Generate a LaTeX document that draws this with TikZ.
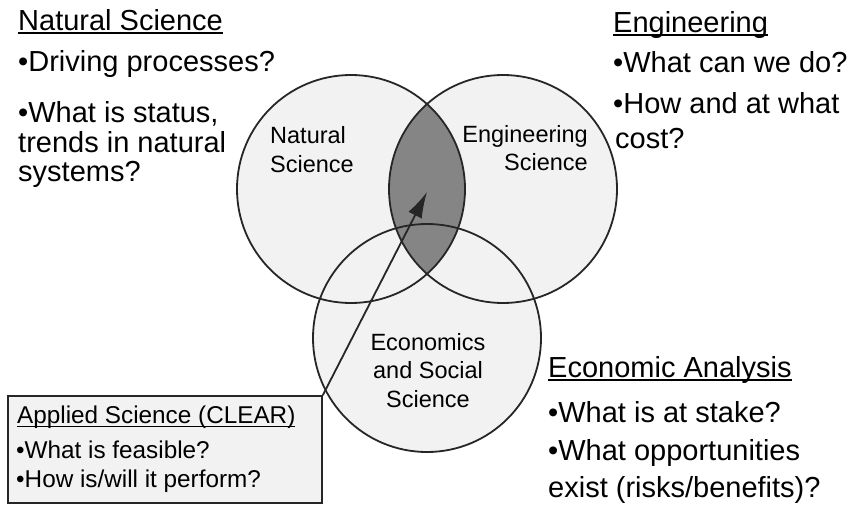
\documentclass[tikz,border=0pt]{standalone}
\usepackage{fontspec}
\setmainfont{Liberation Sans}
\usetikzlibrary{arrows.meta}

\newcommand\headtext[2][1.8pt]{\setbox0\hbox{#2}\rlap{\rule[-4pt]{\wd0}{#1}}\box0}

\tikzset{
  bigtext/.style={anchor=base west,inner sep=0pt,font=\fontsize{29}{34}\selectfont},
  boxtext/.style={anchor=base west,inner sep=0pt,font=\fontsize{24.3}{29}\selectfont},
  circtext/.style={inner sep=0pt,font=\fontsize{23.5}{28.5}\selectfont},
  field/.style={circle,draw=black!85,line width=1.8pt,minimum size=228pt},
}

\begin{document}
\begin{tikzpicture}[x=1pt,y=-1pt]
\useasboundingbox (0,0) rectangle (853,506);
\fill[white] (0,0) rectangle (853,506);
\fill[black!5] (351,189) circle[radius=114pt];
\fill[black!5] (503,189) circle[radius=114pt];
\fill[black!5] (427,338) circle[radius=114pt];
\begin{scope}
\clip (351,189) circle[radius=114pt];
\fill[black!48] (503,189) circle[radius=114pt];
\end{scope}
\node[field] (natc) at (351,189) {};
\node[field] (engc) at (503,189) {};
\node[field] (ecoc) at (427,338) {};
\node[circtext,anchor=base west] (natl1) at (270,143) {Natural};
\node[circtext,anchor=base west] (natl2) at (270,172) {Science};
\node[circtext,anchor=base east] (engl1) at (588,142) {Engineering};
\node[circtext,anchor=base east] (engl2) at (588,170) {Science};
\node[circtext,anchor=base] (ecol1) at (428,350) {Economics};
\node[circtext,anchor=base] (ecol2) at (428,378) {and Social};
\node[circtext,anchor=base] (ecol3) at (428,407) {Science};
\node[bigtext] (nat0) at (18,30) {\headtext{Natural Science}};
\node[bigtext] (nat1) at (18,71) {•Driving processes?};
\node[bigtext] (nat2) at (18,122) {•What is status,};
\node[bigtext] (nat3) at (18,152) {trends in natural};
\node[bigtext] (nat4) at (18,181) {systems?};
\node[bigtext] (eng0) at (613,32) {\headtext{Engineering}};
\node[bigtext] (eng1) at (613,72) {•What can we do?};
\node[bigtext] (eng2) at (613,113) {•How and at what};
\node[bigtext] (eng3) at (615,148) {cost?};
\node[bigtext] (eco0) at (548,377) {\headtext{Economic Analysis}};
\node[bigtext] (eco1) at (548,422) {•What is at stake?};
\node[bigtext] (eco2) at (548,460) {•What opportunities};
\node[bigtext] (eco3) at (548,497) {exist (risks/benefits)?};
\node[draw=black!85,line width=1.6pt,fill=black!5,minimum width=314pt,minimum height=107pt,inner sep=0pt] (clear) at (165,449.5) {};
\node[boxtext] (clear0) at (17,423) {\headtext[1.5pt]{Applied Science (CLEAR)}};
\node[boxtext] (clear1) at (16,458) {•What is feasible?};
\node[boxtext] (clear2) at (16,487) {•How is/will it perform?};
\coordinate (lens) at (427,192);
\draw[black!85,line width=1.8pt,-{Latex[length=26pt,width=15pt]}] (clear.north east) -- (lens);
\end{tikzpicture}
\end{document}
